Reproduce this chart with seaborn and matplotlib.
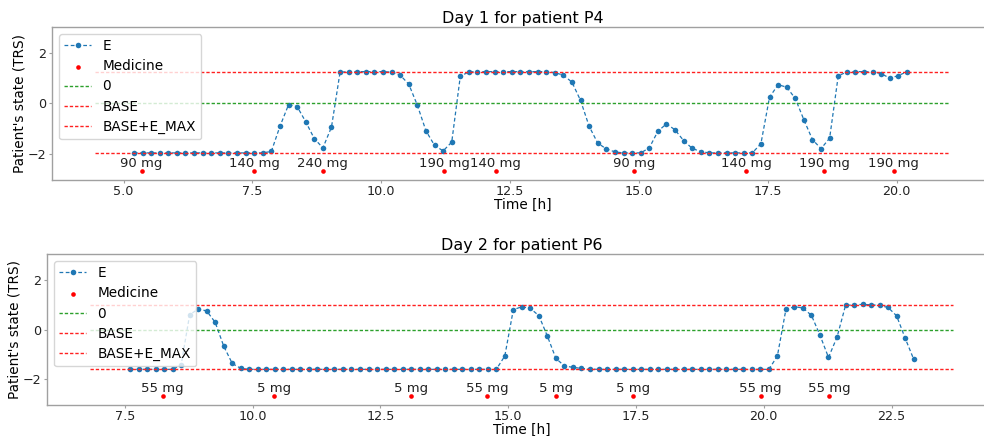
import numpy as np
import pandas as pd
import matplotlib
matplotlib.use("Agg")
import matplotlib.pyplot as plt
import seaborn as sns

# ---- Day 1, patient P4 -------------------------------------------------
day1_start = 5.2          # first sample [h]
sample_step = 1 / 6       # 10-minute sampling
day1_E = [
    -1.97, -1.97, -1.97, -1.97, -1.97, -1.97, -1.97, -1.97,
    -1.97, -1.97, -1.97, -1.97, -1.97, -1.97, -1.97, -1.97,
    -1.91, -0.91, -0.05, -0.12, -0.73, -1.40, -1.77, -0.94,
    1.25, 1.27, 1.27, 1.27, 1.27, 1.27, 1.25, 1.13,
    0.77, -0.07, -1.09, -1.67, -1.89, -1.54, 1.09, 1.26,
    1.27, 1.27, 1.27, 1.27, 1.27, 1.27, 1.27, 1.27,
    1.27, 1.23, 1.13, 0.85, 0.12, -0.91, -1.58, -1.81,
    -1.93, -1.97, -1.97, -1.97, -1.77, -1.11, -0.81, -1.05,
    -1.48, -1.79, -1.92, -1.97, -1.97, -1.97, -1.97, -1.97,
    -1.97, -1.60, 0.25, 0.75, 0.65, 0.20, -0.65, -1.44,
    -1.80, -1.38, 1.10, 1.26, 1.27, 1.27, 1.26, 1.19,
    1.01, 1.11, 1.27,
]
day1_med_time = [5.35, 7.53, 8.86, 11.22, 12.22, 14.91, 17.08, 18.59, 19.94]
day1_med_dose = [90, 140, 240, 190, 140, 90, 140, 190, 190]
day1_base = -1.97
day1_emax = 3.24
day1_span = (4.44, 21.04)

# ---- Day 2, patient P6 -------------------------------------------------
day2_start = 7.6
day2_E = [
    -1.61, -1.61, -1.61, -1.61, -1.61, -1.61, -1.43, 0.59,
    0.83, 0.75, 0.29, -0.67, -1.37, -1.57, -1.61, -1.61,
    -1.61, -1.61, -1.61, -1.61, -1.61, -1.61, -1.61, -1.61,
    -1.61, -1.61, -1.61, -1.61, -1.61, -1.61, -1.61, -1.61,
    -1.61, -1.61, -1.61, -1.61, -1.61, -1.61, -1.61, -1.61,
    -1.61, -1.61, -1.61, -1.61, -1.07, 0.80, 0.92, 0.85,
    0.56, -0.27, -1.17, -1.47, -1.53, -1.57, -1.60, -1.61,
    -1.61, -1.61, -1.61, -1.61, -1.61, -1.61, -1.61, -1.61,
    -1.61, -1.61, -1.61, -1.61, -1.61, -1.61, -1.61, -1.61,
    -1.61, -1.61, -1.61, -1.61, -1.07, 0.81, 0.92, 0.87,
    0.57, -0.23, -1.13, -0.31, 0.97, 1.00, 1.01, 1.00,
    0.97, 0.89, 0.55, -0.35, -1.20,
]
day2_med_time = [8.24, 10.41, 13.09, 14.59, 15.93, 17.44, 19.94, 21.28]
day2_med_dose = [55, 5, 5, 55, 5, 5, 55, 55]
day2_base = -1.61
day2_emax = 2.61
day2_span = (6.82, 23.70)

medicine_level = -2.7

plt.rcParams.update({
    "font.family": ["DejaVu Sans"],
    "axes.edgecolor": "#a0a0a0",
    "axes.linewidth": 1.0,
    "xtick.color": "#a0a0a0",
    "ytick.color": "#a0a0a0",
    "xtick.labelcolor": "#222222",
    "ytick.labelcolor": "#222222",
    "xtick.labelsize": 9.2,
    "ytick.labelsize": 9.2,
    "xtick.major.size": 2,
    "ytick.major.size": 2,
    "xtick.major.pad": 1.5,
    "ytick.major.pad": 2.0,
})

fig = plt.figure(figsize=(9.84, 4.36), dpi=100)
ax1 = fig.add_axes([52 / 984, 1 - 180 / 436, 941 / 984, 153 / 436])
ax2 = fig.add_axes([47 / 984, 1 - 405 / 436, 949 / 984, 151 / 436])

dash = (0, (2.4, 1.4))


def draw_day(ax, start, E, med_t, med_d, base, emax, span, title):
    t = start + sample_step * np.arange(len(E))
    df = pd.DataFrame({"t": t, "E": E})
    med = pd.DataFrame({"t": med_t, "y": [medicine_level] * len(med_t)})

    sns.lineplot(data=df, x="t", y="E", ax=ax, color="#1f77b4",
                 linestyle="--", linewidth=0.9, marker="o", markersize=4,
                 markeredgewidth=0, label="E")
    ax.lines[-1].set_dashes((3, 2))
    sns.scatterplot(data=med, x="t", y="y", ax=ax, color="red", s=11,
                    linewidth=0, label="Medicine")
    for x, d in zip(med_t, med_d):
        ax.text(x, medicine_level + 0.06, f"{d} mg", ha="center",
                va="bottom", fontsize=9.5, color="#222222")

    ax.hlines(0, *span, colors="#2ca02c", linestyles=dash, linewidth=1.0,
              label="0")
    ax.hlines(base, *span, colors="#ff2020", linestyles=dash, linewidth=1.0,
              label="BASE")
    ax.hlines(base + emax, *span, colors="#ff2020", linestyles=dash,
              linewidth=1.0, label="BASE+E_MAX")

    ax.set_ylim(-3.05, 3.05)
    ax.set_yticks([-2, 0, 2])
    ax.set_xlabel("Time [h]", fontsize=9.8, labelpad=0)
    ax.set_ylabel("Patient's state (TRS)", fontsize=9.8, labelpad=1)
    ax.set_title(title, fontsize=11.5, pad=3)
    ax.legend(loc="upper left", fontsize=9.8, handlelength=2.0,
              borderaxespad=0.5, labelspacing=0.45)


draw_day(ax1, day1_start, day1_E, day1_med_time, day1_med_dose,
         day1_base, day1_emax, day1_span, "Day 1 for patient P4")
draw_day(ax2, day2_start, day2_E, day2_med_time, day2_med_dose,
         day2_base, day2_emax, day2_span, "Day 2 for patient P6")

fig.savefig("out.png", dpi=100)
